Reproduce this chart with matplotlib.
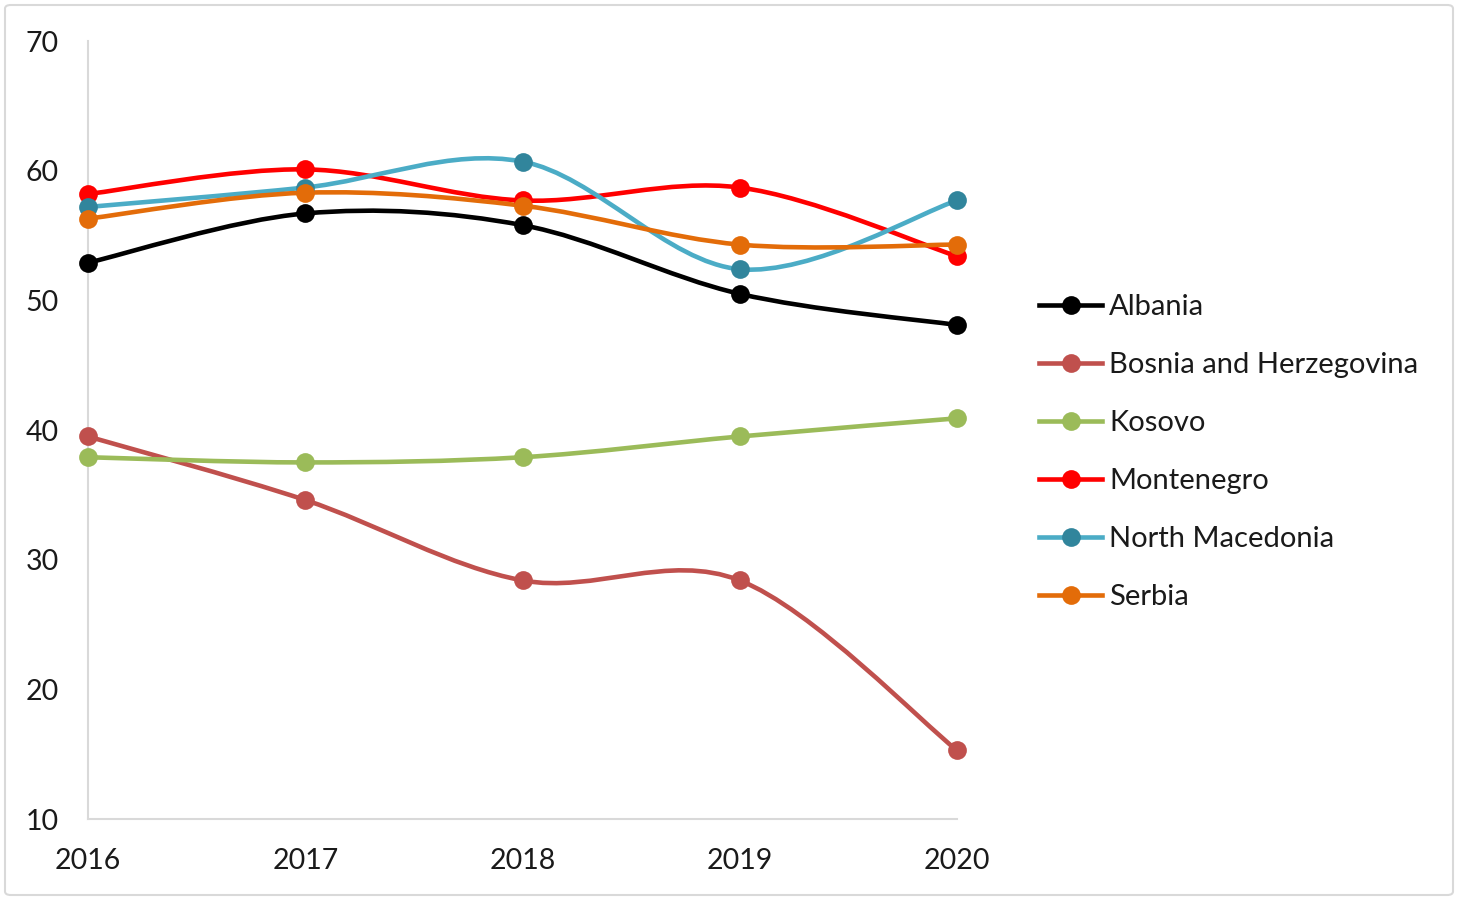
import matplotlib
matplotlib.use("Agg")
import matplotlib.pyplot as plt
from matplotlib.path import Path
from matplotlib.patches import PathPatch, FancyBboxPatch
from matplotlib.lines import Line2D
import numpy as np

plt.rcParams['font.family'] = ['Lato', 'DejaVu Sans']

years = [2016, 2017, 2018, 2019, 2020]
albania = [52.9, 56.7, 55.8, 50.5, 48.1]
bosnia = [39.5, 34.6, 28.4, 28.4, 15.3]
kosovo = [37.9, 37.5, 37.9, 39.5, 40.9]
montenegro = [58.2, 60.1, 57.7, 58.7, 53.4]
north_macedonia = [57.2, 58.7, 60.7, 52.4, 57.7]
serbia = [56.3, 58.3, 57.3, 54.3, 54.3]

names = ["Albania", "Bosnia and Herzegovina", "Kosovo", "Montenegro",
         "North Macedonia", "Serbia"]
series = [albania, bosnia, kosovo, montenegro, north_macedonia, serbia]
line_colors = ["#000000", "#C0504D", "#9BBB59", "#FF0000", "#4BACC6", "#E36C09"]
marker_colors = ["#000000", "#C0504D", "#9BBB59", "#FF0000", "#31859C", "#E36C09"]

fig = plt.figure(figsize=(14.61, 9.0), dpi=100)
ax = fig.add_axes([88/1461, 1-819/900, (957-88)/1461, (819-41)/900])

# outer chart border
border = FancyBboxPatch((5/1461, 5/900), 1448/1461, 890/900,
                        boxstyle="round,pad=0,rounding_size=0.004",
                        transform=fig.transFigure, fill=False,
                        edgecolor="#D9D9D9", linewidth=1.5)
fig.patches.append(border)


def smooth_path(xs, ys):
    pts = np.column_stack([xs, ys]).astype(float)
    n = len(pts)
    verts = [pts[0]]
    codes = [Path.MOVETO]
    for i in range(n - 1):
        p0 = pts[i - 1] if i > 0 else pts[i]
        p1 = pts[i]
        p2 = pts[i + 1]
        p3 = pts[i + 2] if i + 2 < n else pts[i + 1]
        c1 = p1 + (p2 - p0) / 6.0
        c2 = p2 - (p3 - p1) / 6.0
        verts += [c1, c2, p2]
        codes += [Path.CURVE4] * 3
    return Path(verts, codes)


for vals, lc, mc, z in zip(series, line_colors, marker_colors, range(6)):
    patch = PathPatch(smooth_path(years, vals), facecolor="none",
                      edgecolor=lc, linewidth=3.3, zorder=2 + z * 0.1,
                      capstyle="round", joinstyle="round", clip_on=False)
    ax.add_patch(patch)
    ax.plot(years, vals, linestyle="none", marker="o", markersize=13.5,
            markerfacecolor=mc, markeredgecolor=lc, markeredgewidth=0,
            zorder=3 + z * 0.1, clip_on=False)

ax.set_xlim(2016, 2020)
ax.set_ylim(10, 70)
ax.set_xticks(years)
ax.set_yticks([10, 20, 30, 40, 50, 60, 70])
for s in ["top", "right"]:
    ax.spines[s].set_visible(False)
for s in ["left", "bottom"]:
    ax.spines[s].set_color("#D9D9D9")
    ax.spines[s].set_linewidth(1.5)
ax.tick_params(axis="both", length=0, labelsize=20.5, colors="#1a1a1a")
ax.tick_params(axis="y", pad=21)
ax.tick_params(axis="x", pad=21)
ax.patch.set_visible(False)

handles = [Line2D([0], [0], color=lc, linewidth=3.3, marker="o", markersize=13.5,
                  markerfacecolor=mc, markeredgewidth=0)
           for lc, mc in zip(line_colors, marker_colors)]
fig.legend(handles, names, loc="center left",
           bbox_to_anchor=(1013/1461, 1-452/900), frameon=False,
           fontsize=21, handlelength=2.15, handletextpad=0.25,
           labelspacing=1.1, labelcolor="#1a1a1a")

fig.savefig("out.png", dpi=100)
